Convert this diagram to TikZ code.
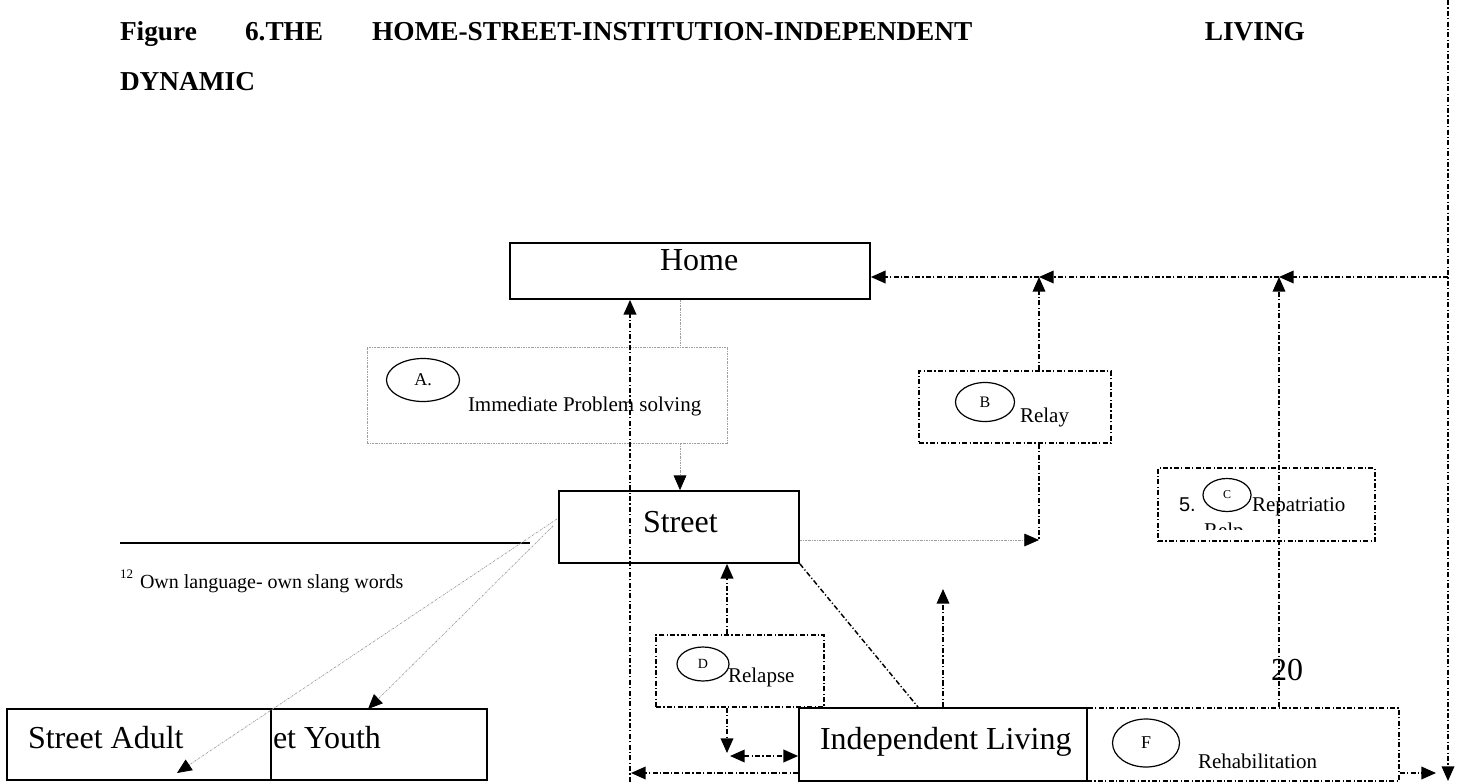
\documentclass[tikz,border=0pt]{standalone}
\usepackage{fontspec}
\setmainfont{Liberation Serif}
\newfontfamily\arialfont{Liberation Sans}
\usetikzlibrary{arrows.meta,shapes.geometric,calc}

\tikzset{
  solidbox/.style={draw, line width=1.3pt, fill=white, inner sep=0pt},
  dashdot/.style={line width=1.1pt, dash pattern=on 3.8pt off 1.7pt on 0.9pt off 1.7pt},
  finedot/.style={line width=0.55pt, gray!75, dash pattern=on 1.5pt off 0.8pt on 0.4pt off 0.8pt},
  tip/.style={-{Triangle[length=11pt,width=9.5pt,color=black]}},
  tips/.style={{Triangle[length=11pt,width=9.5pt,color=black]}-{Triangle[length=11pt,width=9.5pt,color=black]}},
  oval/.style={draw, ellipse, line width=0.9pt, inner sep=0pt},
  txt/.style={inner sep=0pt, outer sep=0pt},
  titlefont/.style={txt, font=\bfseries\fontsize{20.5pt}{24pt}\selectfont},
  bigfont/.style={txt, font=\fontsize{24pt}{28pt}\selectfont},
  smallfont/.style={txt, font=\fontsize{15.75pt}{18pt}\selectfont},
}

\begin{document}
\begin{tikzpicture}[x=0.75pt,y=-0.75pt]
\useasboundingbox (0,0) rectangle (1460,782);

% heading, set word by word as a justified line
\node[titlefont, anchor=base west] (t1) at (120,40) {Figure};
\node[titlefont, anchor=base west] (t2) at (245,40) {6.THE};
\node[titlefont, anchor=base west] (t3) at (372,40) {HOME-STREET-INSTITUTION-INDEPENDENT};
\node[titlefont, anchor=base east] (t4) at (1305,40) {LIVING};
\node[titlefont, anchor=base west] (t5) at (120,90) {DYNAMIC};

% footnote
\coordinate (fnA) at (120,543);
\coordinate (fnB) at (530,543);
\draw[line width=0.8pt] (fnA) -- (fnB);
\node[txt, anchor=base west, font=\fontsize{9.75pt}{11pt}\selectfont] (fnmark) at (120,578) {12};
\node[smallfont, anchor=base west, font=\fontsize{15pt}{18pt}\selectfont] (fntext) at (140,588) {Own language- own slang words};

% page number
\node[bigfont, anchor=base west] (pagenum) at (1271,680) {20};

% framed (dotted / dash-dot) process boxes
\node[draw, finedot, minimum width=270pt, minimum height=72pt] (abox) at (547,395) {};
\node[draw, dashdot, minimum width=144pt, minimum height=54pt] (bbox) at (1015,407) {};
\node[draw, dashdot, minimum width=162.75pt, minimum height=54.75pt] (cbox) at (1266.5,504.5) {};
\node[draw, dashdot, minimum width=126pt, minimum height=54pt] (dbox) at (740,671) {};
\node[draw, dashdot, minimum width=234pt, minimum height=54.75pt] (fbox) at (1243,744.5) {};

% solid state boxes
\node[solidbox, minimum width=270pt, minimum height=42pt] (home) at (690,271) {};
\node[solidbox, minimum width=180pt, minimum height=54pt] (street) at (679,527) {};
\node[solidbox, minimum width=216pt, minimum height=54.75pt] (il) at (943,744.5) {};
\node[solidbox, minimum width=162pt, minimum height=53.25pt] (youth) at (379,744.5) {};
\node[solidbox, minimum width=198pt, minimum height=53.25pt] (adult) at (139,744.5) {};

% box captions
\node[bigfont, anchor=base west] (homet) at (660,270) {Home};
\node[bigfont, anchor=base west] (streett) at (643,532) {Street};
\node[bigfont, anchor=base west] (ilt) at (820,749) {Independent Living};
\node[bigfont, anchor=base west] (adultt) at (28,748) {Street Adult};
\node[bigfont, anchor=base west] (youtht) at (273,748) {et Youth};

% process labels with their ovals
\node[oval, minimum width=54.75pt, minimum height=32.25pt, font=\fontsize{13.5pt}{14pt}\selectfont] (ovA) at (423,380) {A.};
\node[smallfont, anchor=base west] (lblA) at (468,411) {Immediate Problem solving};

\node[oval, minimum width=44.25pt, minimum height=29.25pt, font=\fontsize{12pt}{13pt}\selectfont] (ovB) at (985,402) {B};
\node[smallfont, anchor=base west] (lblB) at (1020,422) {Relay};

\node[oval, minimum width=36pt, minimum height=24.75pt, font=\fontsize{9pt}{10pt}\selectfont] (ovC) at (1227,495) {C};
\node[txt, anchor=base west, font=\arialfont\fontsize{15pt}{18pt}\selectfont] (num5) at (1179,511) {5.};
\node[smallfont, anchor=base west] (lblC) at (1252,511) {Repatriatio};
\begin{scope}
  \clip (1160,515) rectangle (1373,529);
  \node[smallfont, anchor=base west] (lblC2) at (1204,537) {Relp};
\end{scope}

\node[oval, minimum width=39pt, minimum height=25.5pt, font=\fontsize{10.5pt}{11pt}\selectfont] (ovD) at (703,664) {D};
\node[smallfont, anchor=base west] (lblD) at (728,682) {Relapse};

\node[oval, minimum width=50.25pt, minimum height=36pt, font=\fontsize{13.5pt}{14pt}\selectfont] (ovF) at (1146,743) {F};
\node[smallfont, anchor=base west] (lblF) at (1198,768) {Rehabilitation};

% junction points of the connectors
\coordinate (rtop) at (1448,0);
\coordinate (rbot) at (1448,781);
\coordinate (topR) at (1448,277);
\coordinate (topC) at (1279,277);
\coordinate (topB) at (1039,277);
\coordinate (relayend) at (1039,540);
\coordinate (hx) at (680,0);
\coordinate (lv) at (630,782);
\coordinate (lb) at (631,773);
\coordinate (dx) at (727,0);
\coordinate (ddown) at (727,753);
\coordinate (dl) at (730,756);
\coordinate (diag) at (918,707);
\coordinate (iup) at (943,589);
\coordinate (fr) at (1436,773);
\coordinate (sa) at (557,519);
\coordinate (sy) at (553,526);
\coordinate (adultTip) at (177,773);
\coordinate (youthTip) at (368,709);

% return paths to Home along the top
\draw[dashdot, tip] (rtop) -- (rbot);
\draw[dashdot, tip] (topR) -- (topC);
\draw[dashdot, tip] (topC) -- (topB);
\draw[dashdot, tip] (topB) -- (home.east |- topB);
\draw[dashdot, tip] (topB |- bbox.north) -- (topB);
\draw[dashdot, tip] (topC |- fbox.north) -- (topC);

% Home -> A -> Street
\draw[finedot] (home.south -| hx) -- (abox.north -| hx);
\draw[finedot, tip] (abox.south -| hx) -- (street.north -| hx);

% Street -> Relay
\draw[finedot, tip] (street.east |- relayend) -- (relayend);
\draw[dashdot] (relayend |- bbox.south) -- (relayend);

% Street -> street adult / street youth
\draw[finedot, tip] (sa) -- (adultTip);
\draw[finedot, tip] (sy) -- (youthTip);

% left return line
\draw[dashdot, tip] (lv) -- (home.south -| lv);
\draw[dashdot, tip] (il.west |- lb) -- (lb);

% relapse loop
\draw[dashdot, tip] (dbox.north -| dx) -- (street.south -| dx);
\draw[dashdot, tip] (dbox.south -| dx) -- (ddown);
\draw[dashdot, tips] (dl) -- (il.west |- dl);

% Street -> Independent Living
\draw[dashdot] (street.south east) -- (diag);
\draw[dashdot, tip] (iup |- il.north) -- (iup);

% rehabilitation exit
\draw[dashdot, tip] (fbox.east |- fr) -- (fr);
\end{tikzpicture}
\end{document}
